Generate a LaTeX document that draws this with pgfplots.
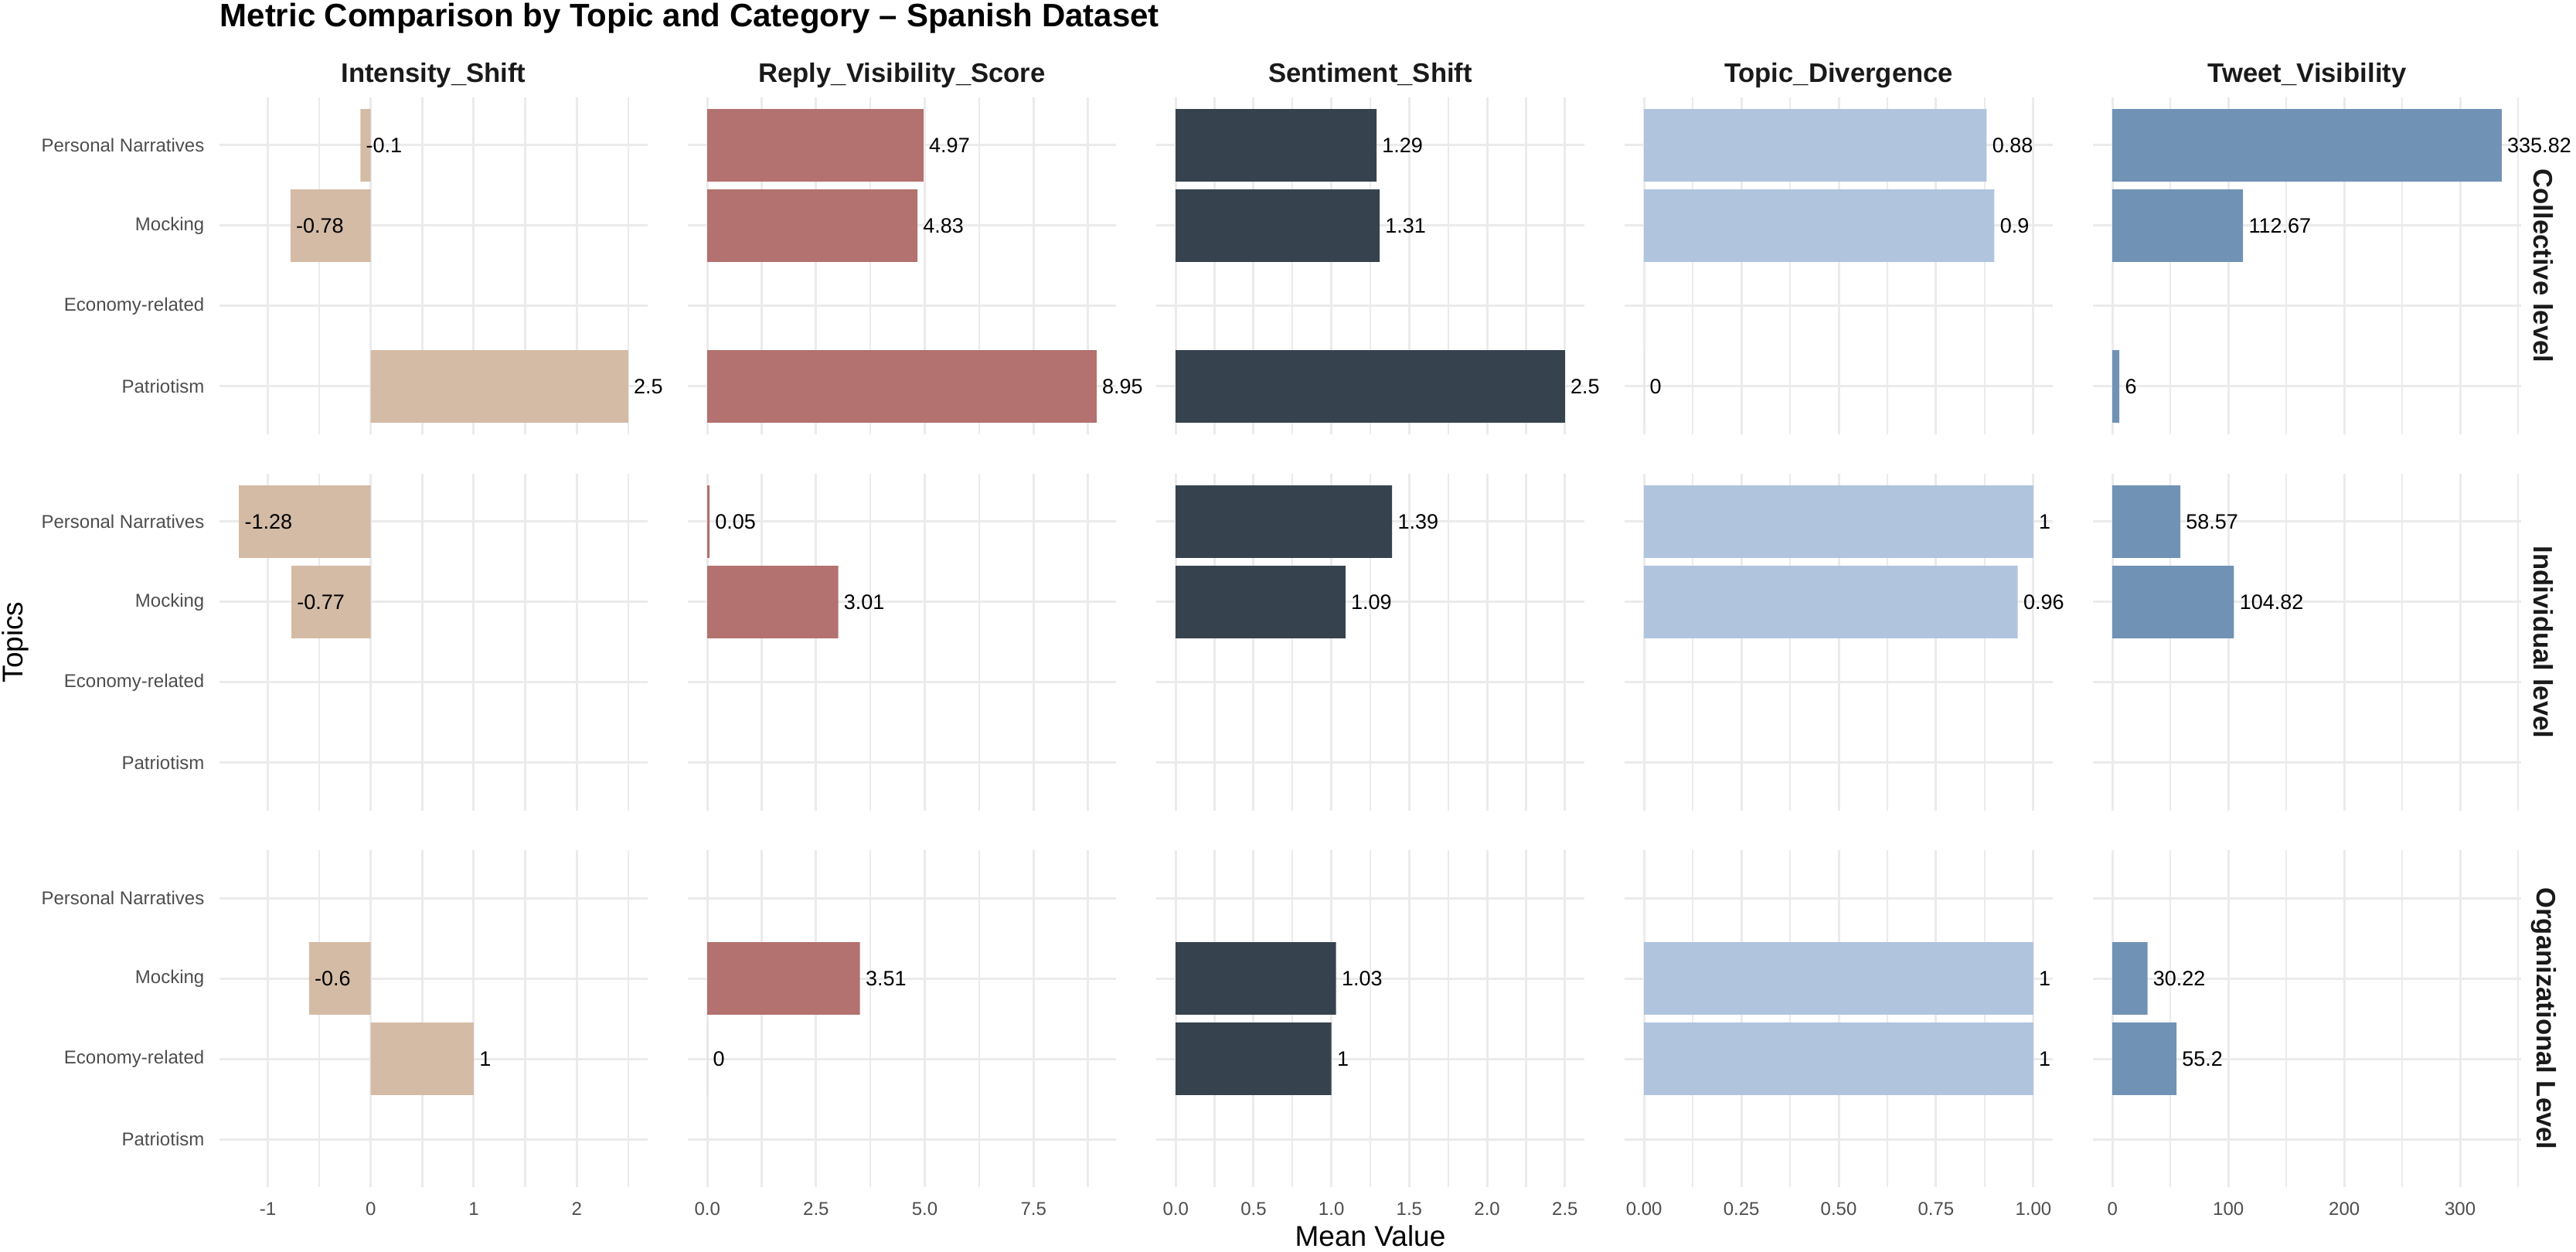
\documentclass[border=0pt]{standalone}
\usepackage{fontspec}
\setmainfont{Liberation Sans}
\usepackage{pgfplots}
\pgfplotsset{compat=1.18}

\definecolor{cInt}{HTML}{D4BBA6}
\definecolor{cRep}{HTML}{B3716F}
\definecolor{cSen}{HTML}{36434F}
\definecolor{cTop}{HTML}{B0C4DE}
\definecolor{cTwe}{HTML}{7092B5}
\definecolor{gridc}{HTML}{EBEBEB}
\definecolor{tickc}{HTML}{4D4D4D}
\definecolor{stripc}{HTML}{1A1A1A}

% 1 px of the reference = 0.3pt
\pgfplotsset{
  facet/.style={
    scale only axis, width=166.2pt, height=131.04pt,
    anchor=north west, clip=false,
    xbar, bar width=0.9, bar shift=0pt,
    ymin=0.4, ymax=4.6, ytick={1,2,3,4}, yticklabels={},
    xticklabels={},
    axis line style={draw=none},
    major tick length=0pt, minor tick length=0pt,
    xmajorgrids, xminorgrids, ymajorgrids,
    major grid style={gridc, line width=0.9pt},
    minor grid style={gridc, line width=0.7pt},
    tick label style={font=\fontsize{7.2}{8}\selectfont, text=tickc},
    xticklabel style={anchor=base, yshift=-10.7pt},
    point meta=explicit symbolic,
    nodes near coords,
    every node near coord/.append style={anchor=west, inner sep=2pt,
      font=\fontsize{8.1}{9}\selectfont, text=black},
  },
  c1/.style={xmin=-1.469, xmax=2.689, xtick={-1,0,1,2}, minor xtick={-0.5,0.5,1.5,2.5}},
  c2/.style={xmin=-0.4475, xmax=9.3975, xtick={0,2.5,5,7.5}, minor xtick={1.25,3.75,6.25,8.75}},
  c3/.style={xmin=-0.125, xmax=2.625, xtick={0,0.5,1,1.5,2,2.5}, minor xtick={0.25,0.75,1.25,1.75,2.25}},
  c4/.style={xmin=-0.05, xmax=1.05, xtick={0,0.25,0.5,0.75,1}, minor xtick={0.125,0.375,0.625,0.875}},
  c5/.style={xmin=-16.791, xmax=352.611, xtick={0,100,200,300}, minor xtick={50,150,250,350}},
  ylab/.style={yticklabels={Patriotism,Economy-related,Mocking,Personal Narratives},
    yticklabel style={anchor=east, inner sep=0pt, xshift=-5.7pt}},
}

\begin{document}
\begin{tikzpicture}
\path[use as bounding box] (0,0) rectangle (999.9pt,-486pt);

% ---------- Collective level ----------
\begin{axis}[facet, c1, ylab, name=a11, at={(85.2pt,-37.68pt)}]
\addplot[fill=cInt, draw=none] coordinates {(-0.1,4) [-0.1] (-0.78,3) [-0.78] (2.5,1) [2.5]};
\end{axis}
\begin{axis}[facet, c2, name=a12, at={(267pt,-37.68pt)}]
\addplot[fill=cRep, draw=none] coordinates {(4.97,4) [4.97] (4.83,3) [4.83] (8.95,1) [8.95]};
\end{axis}
\begin{axis}[facet, c3, name=a13, at={(448.8pt,-37.68pt)}]
\addplot[fill=cSen, draw=none] coordinates {(1.29,4) [1.29] (1.31,3) [1.31] (2.5,1) [2.5]};
\end{axis}
\begin{axis}[facet, c4, name=a14, at={(630.6pt,-37.68pt)}]
\addplot[fill=cTop, draw=none] coordinates {(0.88,4) [0.88] (0.9,3) [0.9] (0,1) [0]};
\end{axis}
\begin{axis}[facet, c5, name=a15, at={(812.4pt,-37.68pt)}]
\addplot[fill=cTwe, draw=none] coordinates {(335.82,4) [335.82] (112.67,3) [112.67] (6,1) [6]};
\end{axis}

% ---------- Individual level ----------
\begin{axis}[facet, c1, ylab, name=a21, at={(85.2pt,-183.78pt)}]
\addplot[fill=cInt, draw=none] coordinates {(-1.28,4) [-1.28] (-0.77,3) [-0.77]};
\end{axis}
\begin{axis}[facet, c2, name=a22, at={(267pt,-183.78pt)}]
\addplot[fill=cRep, draw=none] coordinates {(0.05,4) [0.05] (3.01,3) [3.01]};
\end{axis}
\begin{axis}[facet, c3, name=a23, at={(448.8pt,-183.78pt)}]
\addplot[fill=cSen, draw=none] coordinates {(1.39,4) [1.39] (1.09,3) [1.09]};
\end{axis}
\begin{axis}[facet, c4, name=a24, at={(630.6pt,-183.78pt)}]
\addplot[fill=cTop, draw=none] coordinates {(1,4) [1] (0.96,3) [0.96]};
\end{axis}
\begin{axis}[facet, c5, name=a25, at={(812.4pt,-183.78pt)}]
\addplot[fill=cTwe, draw=none] coordinates {(58.57,4) [58.57] (104.82,3) [104.82]};
\end{axis}

% ---------- Organizational Level ----------
\begin{axis}[facet, c1, ylab, name=a31, at={(85.2pt,-329.88pt)}, xticklabels={-1,0,1,2}]
\addplot[fill=cInt, draw=none] coordinates {(-0.6,3) [-0.6] (1,2) [1]};
\end{axis}
\begin{axis}[facet, c2, name=a32, at={(267pt,-329.88pt)}, xticklabels={0.0,2.5,5.0,7.5}]
\addplot[fill=cRep, draw=none] coordinates {(3.51,3) [3.51] (0,2) [0]};
\end{axis}
\begin{axis}[facet, c3, name=a33, at={(448.8pt,-329.88pt)}, xticklabels={0.0,0.5,1.0,1.5,2.0,2.5}]
\addplot[fill=cSen, draw=none] coordinates {(1.03,3) [1.03] (1,2) [1]};
\end{axis}
\begin{axis}[facet, c4, name=a34, at={(630.6pt,-329.88pt)}, xticklabels={0.00,0.25,0.50,0.75,1.00}]
\addplot[fill=cTop, draw=none] coordinates {(1,3) [1] (1,2) [1]};
\end{axis}
\begin{axis}[facet, c5, name=a35, at={(812.4pt,-329.88pt)}, xticklabels={0,100,200,300}]
\addplot[fill=cTwe, draw=none] coordinates {(30.22,3) [30.22] (55.2,2) [55.2]};
\end{axis}

% strips, titles
\tikzset{strip/.style={font=\bfseries\fontsize{10.4}{12}\selectfont, text=stripc}}
\node[strip, anchor=base] at ([yshift=5.6pt]a11.north) {Intensity\_Shift};
\node[strip, anchor=base] at ([yshift=5.6pt]a12.north) {Reply\_Visibility\_Score};
\node[strip, anchor=base] at ([yshift=5.6pt]a13.north) {Sentiment\_Shift};
\node[strip, anchor=base] at ([yshift=5.6pt]a14.north) {Topic\_Divergence};
\node[strip, anchor=base] at ([yshift=5.6pt]a15.north) {Tweet\_Visibility};
\node[strip, rotate=-90] at (987.3pt,-103.2pt) {Collective level};
\node[strip, rotate=-90] at (987.3pt,-249.3pt) {Individual level};
\node[strip, rotate=-90] at (987.3pt,-395.4pt) {Organizational Level};

\node[anchor=base west, inner sep=0pt, font=\bfseries\fontsize{12.6}{14}\selectfont]
  at (85.2pt,-10.3pt) {Metric Comparison by Topic and Category – Spanish Dataset};
\node[anchor=base, inner sep=0pt, font=\fontsize{11.1}{13}\selectfont]
  at (531.9pt,-483.6pt) {Mean Value};
\node[rotate=90, inner sep=0pt, font=\fontsize{11.1}{13}\selectfont]
  at (6pt,-249.3pt) {Topics};
\end{tikzpicture}
\end{document}
